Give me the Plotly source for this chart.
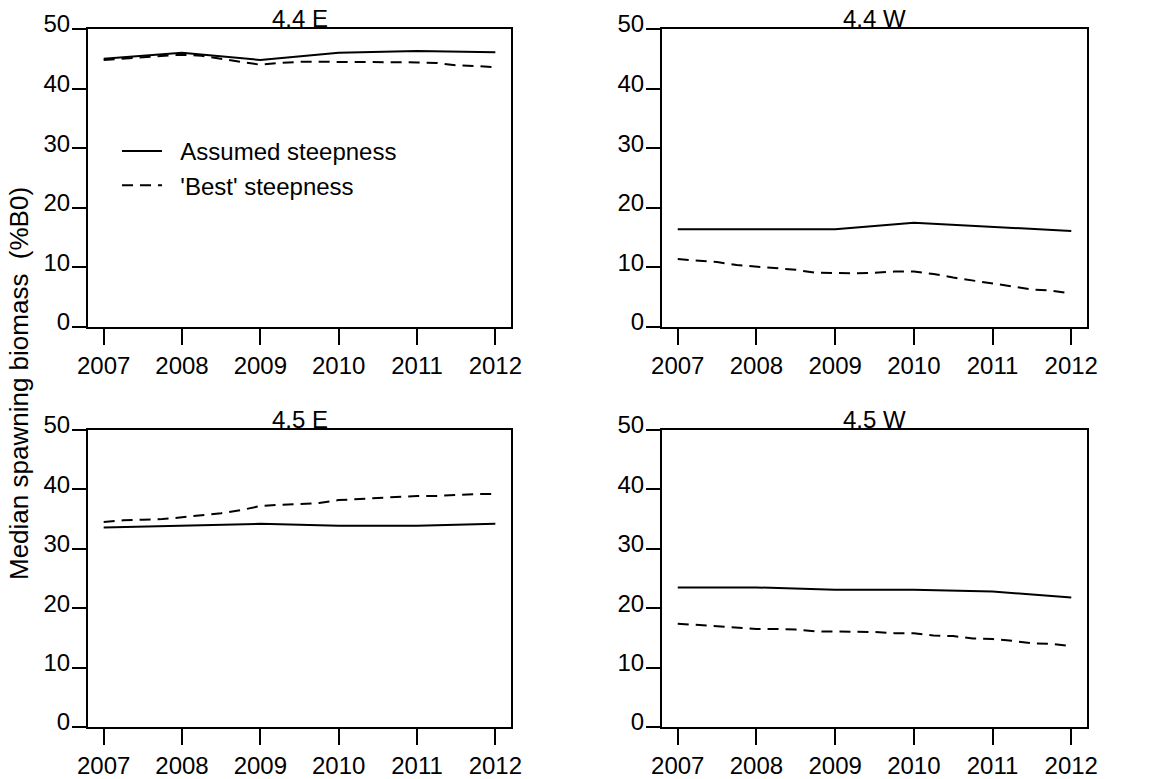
import plotly.graph_objects as go

# Years on the x axis and the quarterly grid used by the 'Best' steepness runs
years = [2007, 2008, 2009, 2010, 2011, 2012]
quarters = [2007.00, 2007.25, 2007.50, 2007.75, 2008.00, 2008.25, 2008.50,
            2008.75, 2009.00, 2009.25, 2009.50, 2009.75, 2010.00, 2010.25,
            2010.50, 2010.75, 2011.00, 2011.25, 2011.50, 2011.75, 2012.00]

panel_titles = ["4.4 E", "4.4 W", "4.5 E", "4.5 W"]
y_ticks = [0, 10, 20, 30, 40, 50]

# Median spawning biomass (%B0), assumed steepness (annual)
assumed_44E = [45.0, 46.0, 44.8, 46.0, 46.3, 46.1]
assumed_44W = [16.4, 16.4, 16.4, 17.5, 16.8, 16.1]
assumed_45E = [33.6, 33.9, 34.2, 33.9, 33.9, 34.2]
assumed_45W = [23.5, 23.5, 23.1, 23.1, 22.8, 21.8]

# Median spawning biomass (%B0), 'best' steepness (quarterly)
best_44E = [44.8, 45.0, 45.3, 45.5, 45.7, 45.5, 45.0, 44.5, 44.0, 44.3, 44.5,
            44.5, 44.5, 44.5, 44.5, 44.4, 44.4, 44.3, 43.9, 43.8, 43.6]
best_44W = [11.4, 11.1, 10.9, 10.4, 10.1, 9.8, 9.6, 9.1, 9.0, 9.0, 9.1,
            9.3, 9.3, 8.9, 8.3, 7.8, 7.3, 6.8, 6.3, 6.1, 5.6]
best_45E = [34.5, 34.8, 34.9, 35.0, 35.3, 35.6, 36.0, 36.5, 37.2, 37.4, 37.5,
            37.7, 38.2, 38.4, 38.5, 38.7, 38.9, 38.9, 39.1, 39.2, 39.25]
best_45W = [17.4, 17.2, 17.0, 16.8, 16.5, 16.5, 16.4, 16.1, 16.1, 16.0, 16.0,
            15.8, 15.8, 15.4, 15.3, 14.9, 14.8, 14.5, 14.1, 14.0, 13.6]

assumed = [assumed_44E, assumed_44W, assumed_45E, assumed_45W]
best = [best_44E, best_44W, best_45E, best_45W]

W, H = 1156, 779
FONT = "Liberation Sans, Arial, Helvetica, sans-serif"
NBSP = "\u00a0"

# Panel boxes in pixels: (left, right) per column, (top, bottom) per row
cols = [(88, 511), (662, 1087)]
rows = [(29, 327), (430, 727)]

fig = go.Figure()
layout = {}
annotations = []

for i in range(4):
    r, c = divmod(i, 2)
    left, right = cols[c]
    top, bottom = rows[r]
    sfx = "" if i == 0 else str(i + 1)
    xa, ya = "x" + sfx, "y" + sfx

    fig.add_trace(go.Scatter(
        x=years, y=assumed[i], xaxis=xa, yaxis=ya, mode="lines",
        line=dict(color="black", width=2),
        name=NBSP * 2 + "Assumed steepness", showlegend=(i == 0)))
    fig.add_trace(go.Scatter(
        x=quarters, y=best[i], xaxis=xa, yaxis=ya, mode="lines",
        line=dict(color="black", width=2, dash="11px,7px"),
        name=NBSP * 2 + "'Best' steepness", showlegend=(i == 0)))

    layout["xaxis" + sfx] = dict(
        domain=[left / W, right / W], anchor=ya, range=[2006.8, 2012.2],
        tickvals=years, ticks="outside", ticklen=16, tickwidth=2,
        tickcolor="black", showline=True, mirror=True, linewidth=2,
        linecolor="black", showgrid=False, zeroline=False,
        tickfont=dict(size=24, color="black", family=FONT),
        ticklabelstandoff=0, automargin=False, fixedrange=True)
    layout["yaxis" + sfx] = dict(
        domain=[1 - bottom / H, 1 - top / H], anchor=xa, range=[0, 50],
        tickvals=y_ticks, ticks="outside", ticklen=14, tickwidth=2,
        tickcolor="black", showline=True, mirror=True, linewidth=2,
        linecolor="black", showgrid=False, zeroline=False,
        tickfont=dict(size=24, color="black", family=FONT),
        ticklabelstandoff=-3, ticklabelshift=-5, automargin=False,
        fixedrange=True)

    annotations.append(dict(
        text=panel_titles[i], x=(left + right) / 2 / W, y=1 - top / H,
        xref="paper", yref="paper", xanchor="center", yanchor="bottom",
        yshift=-5, showarrow=False,
        font=dict(size=24, color="black", family=FONT)))

annotations.append(dict(
    text="Median spawning biomass  (%B0)", x=19 / W, y=1 - 384 / H,
    xref="paper", yref="paper", xanchor="center", yanchor="middle",
    textangle=-90, showarrow=False,
    font=dict(size=26, color="black", family=FONT)))

fig.update_layout(
    width=W, height=H, margin=dict(l=0, r=0, t=0, b=0),
    paper_bgcolor="white", plot_bgcolor="white",
    showlegend=True,
    legend=dict(x=117 / W, y=1 - 129 / H, xanchor="left", yanchor="top",
                bgcolor="rgba(0,0,0,0)", borderwidth=0,
                font=dict(size=24, color="black", family=FONT),
                tracegroupgap=0, itemwidth=40),
    annotations=annotations,
    **layout)

fig.write_html("out.html")
